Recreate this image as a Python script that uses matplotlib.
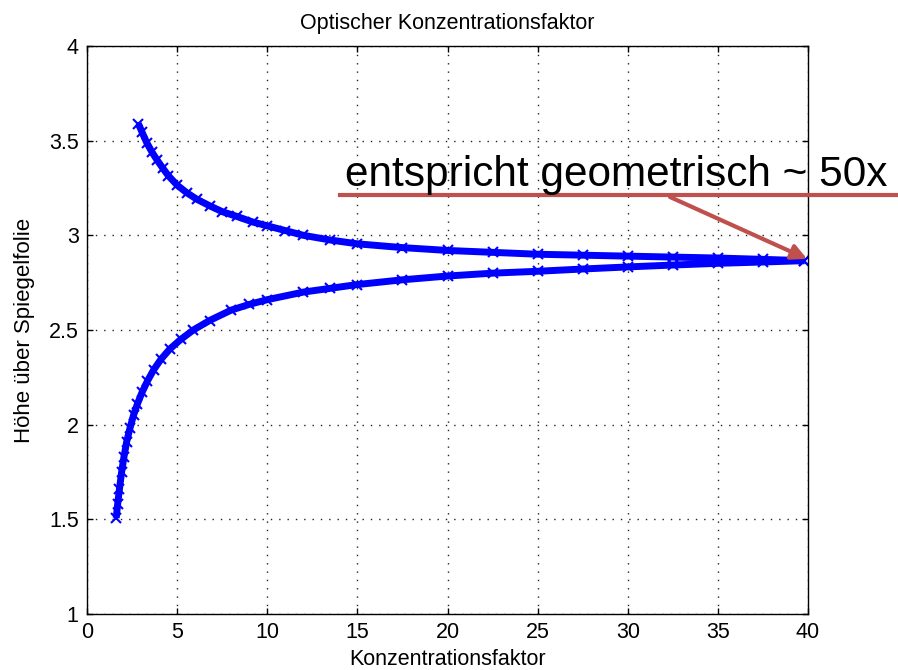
import matplotlib.pyplot as plt
from matplotlib.lines import Line2D

plt.rcParams['font.family'] = ['Liberation Sans', 'DejaVu Sans']

# upper branch
upper_x = [2.85, 3.05, 3.31, 3.60, 3.87, 4.20, 4.51, 5.0, 5.53, 6.1, 6.82, 7.5, 8.3, 9.2,
           10.0, 11.0, 12.0, 13.5, 15.0, 17.5, 20.0, 22.5, 25.0, 27.5, 30.0, 32.5, 35.0, 37.5, 39.8]
upper_y = [3.59, 3.545, 3.49, 3.44, 3.40, 3.355, 3.315, 3.265, 3.225, 3.19, 3.155, 3.125, 3.10, 3.07,
           3.05, 3.025, 3.00, 2.975, 2.955, 2.935, 2.92, 2.91, 2.90, 2.895, 2.89, 2.885, 2.88, 2.873, 2.866]

# lower branch
lower_x = [1.62, 1.70, 1.80, 1.92, 2.05, 2.20, 2.38, 2.58, 2.80, 3.05, 3.35, 3.70, 4.10, 4.60,
           5.20, 5.90, 6.80, 8.0, 9.0, 10.0, 12.0, 13.5, 15.0, 17.5, 20.0, 22.5, 25.0, 27.5,
           30.0, 32.5, 35.0, 37.5, 39.8]
lower_y = [1.507, 1.58, 1.66, 1.75, 1.83, 1.91, 1.98, 2.05, 2.11, 2.17, 2.23, 2.29, 2.345, 2.40,
           2.45, 2.50, 2.55, 2.605, 2.635, 2.66, 2.70, 2.72, 2.74, 2.765, 2.785, 2.80, 2.81, 2.822,
           2.833, 2.843, 2.852, 2.859, 2.866]

x_ticks = [0, 5, 10, 15, 20, 25, 30, 35, 40]
y_ticks = [1, 1.5, 2, 2.5, 3, 3.5, 4]

fig = plt.figure(figsize=(8.98, 6.70), dpi=100)
ax = fig.add_axes([0.0969, 0.0836, 0.8029, 0.8478])

for xs, ys in [(upper_x, upper_y), (lower_x, lower_y)]:
    ax.plot(xs, ys, color='#0000ff', lw=5, solid_capstyle='butt',
            solid_joinstyle='round', marker='x', ms=7, mew=1.5)

ax.set_xlim(0, 40)
ax.set_ylim(1, 4)
ax.set_xticks(x_ticks)
ax.set_yticks(y_ticks)
ax.set_xticklabels([str(v) for v in x_ticks])
ax.set_yticklabels(['1', '1.5', '2', '2.5', '3', '3.5', '4'])
ax.tick_params(direction='in', length=4.5, width=1, top=True, right=True,
               labelsize=15.5, pad=6)
ax.grid(True, color='#222222', linestyle=(0, (1, 5)), lw=1)
for s in ax.spines.values():
    s.set_linewidth(1)

ax.set_title('Optischer Konzentrationsfaktor', fontsize=15.5, pad=12)
ax.set_xlabel('Konzentrationsfaktor', fontsize=15.5, labelpad=4)
ax.set_ylabel('Höhe über Spiegelfolie', fontsize=16, labelpad=10)

# annotation with underline and arrow
fig.text(345 / 898, 1 - 186 / 670, 'entspricht geometrisch ~ 50x',
         fontsize=30.5, ha='left', va='baseline')
fig.add_artist(Line2D([340 / 898, 1.0], [1 - 195 / 670, 1 - 195 / 670],
                      transform=fig.transFigure, color='#c0504d', lw=3))
ax.annotate('', xy=(39.95, 2.875), xycoords='data',
            xytext=(670 / 898, 1 - 197 / 670), textcoords='figure fraction',
            arrowprops=dict(arrowstyle='-|>,head_length=0.9,head_width=0.45',
                            color='#c0504d', lw=3, shrinkA=0, shrinkB=0))

fig.savefig('out.png', dpi=100)
